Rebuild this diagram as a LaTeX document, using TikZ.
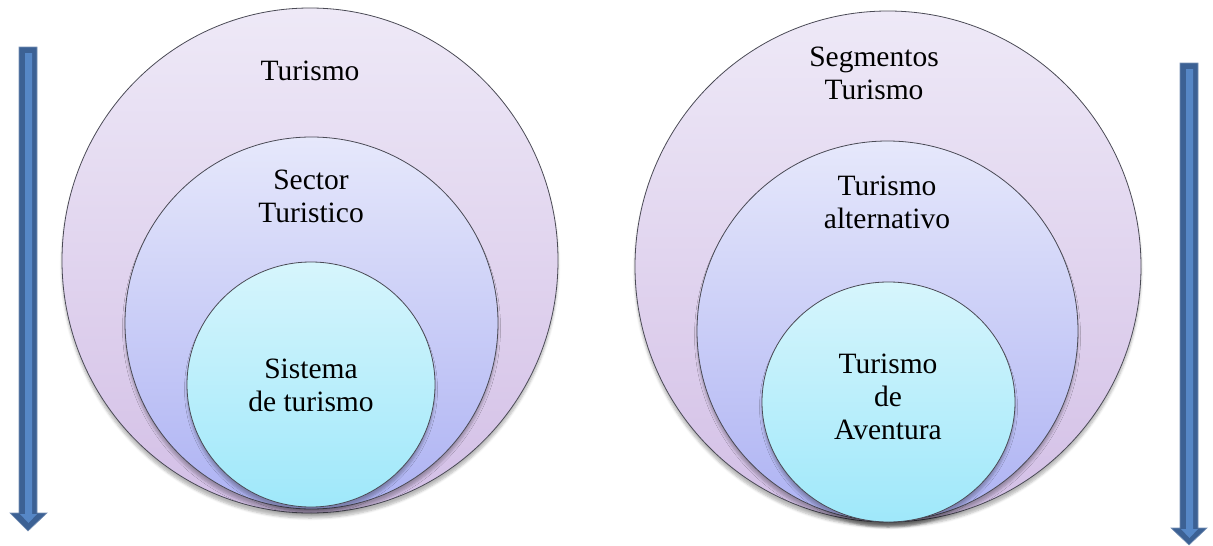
\documentclass[tikz,border=0pt]{standalone}
\usepackage{fontspec}
\setmainfont{Liberation Serif}
\newfontfamily\lblfont{Liberation Serif}
\usetikzlibrary{shadows.blur}
\definecolor{outerTop}{HTML}{EEE9F7}
\definecolor{outerBot}{HTML}{D3BFE6}
\definecolor{midTop}{HTML}{E6E8FB}
\definecolor{midBot}{HTML}{ADB2F3}
\definecolor{innTop}{HTML}{D6F5FC}
\definecolor{innBot}{HTML}{9FE8FA}
\definecolor{arrDark}{HTML}{3C6194}
\definecolor{arrLight}{HTML}{5687C6}
\definecolor{ringLine}{HTML}{4A4A55}
\tikzset{
  ring/.style={draw=ringLine, line width=0.8pt,
    blur shadow={shadow xshift=0pt, shadow yshift=-5pt, shadow blur radius=2.5pt, shadow blur steps=6, shadow opacity=28}},
  outerring/.style={ring, top color=outerTop, bottom color=outerBot},
  midring/.style={ring, top color=midTop, bottom color=midBot},
  innring/.style={ring, top color=innTop, bottom color=innBot},
  lbl/.style={align=center, font=\lblfont\fontsize{29.5}{33}\selectfont, inner sep=0pt},
  arrbody/.style={fill=arrDark, draw=arrDark!70!white, line width=0.6pt},
  arrcore/.style={fill=arrLight, draw=none}
}
\begin{document}
\begin{tikzpicture}[x=1pt, y=-1pt]
\useasboundingbox (0,0) rectangle (1213,546);
% left set
\path[outerring] (310,260.5) ellipse (248 and 252.5);
\path[midring] (311.5,323) ellipse (186.5 and 186);
\path[innring] (311,384.5) ellipse (124 and 122.5);
\node[lbl] (l1) at (310,71) {Turismo};
\node[lbl] (l2) at (311,196) {Sector\\Turistico};
\node[lbl] (l3) at (311,385) {Sistema\\de turismo};
% right set
\path[outerring] (888,266.5) ellipse (253 and 255.5);
\path[midring] (887.5,331) ellipse (190.5 and 190);
\path[innring] (888.5,402) ellipse (126.5 and 120);
\node[lbl] (r1) at (874,73) {Segmentos\\Turismo};
\node[lbl] (r2) at (887,202) {Turismo\\alternativo};
\node[lbl] (r3) at (888,397) {Turismo\\de\\Aventura};
% left arrow
\path[arrbody] (19,47) -- (37,47) -- (37,513) -- (47,513) -- (28,531) -- (10,513) -- (19,513) -- cycle;
\path[arrcore] (25,53) -- (32,53) -- (32,514) -- (37,514) -- (28.5,523) -- (20,514) -- (25,514) -- cycle;
% right arrow
\path[arrbody] (1180,63) -- (1198,63) -- (1198,528) -- (1207,528) -- (1189,545) -- (1171,528) -- (1180,528) -- cycle;
\path[arrcore] (1186,69) -- (1193,69) -- (1193,529) -- (1198,529) -- (1189.5,538) -- (1181,529) -- (1186,529) -- cycle;
\end{tikzpicture}
\end{document}
